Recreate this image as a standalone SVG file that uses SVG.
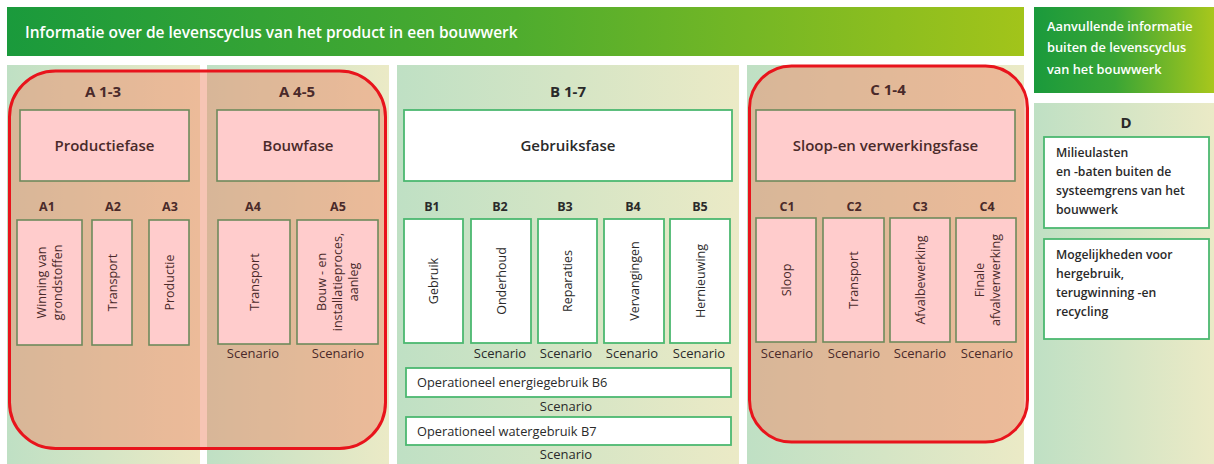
<svg xmlns="http://www.w3.org/2000/svg" width="1214" height="464" viewBox="0 0 1214 464">
<defs>
<linearGradient id="gHead" x1="0" y1="0" x2="1" y2="0">
<stop offset="0" stop-color="#1a9a3c"/><stop offset="0.5" stop-color="#4eac2e"/><stop offset="1" stop-color="#a2c41a"/>
</linearGradient>
<linearGradient id="gHead2" x1="0" y1="0" x2="1" y2="0">
<stop offset="0" stop-color="#1a9a3c"/><stop offset="0.45" stop-color="#3aa535"/><stop offset="1" stop-color="#a8c71c"/>
</linearGradient>
<linearGradient id="gPanel" x1="0" y1="0" x2="1" y2="0">
<stop offset="0" stop-color="#bfe0c4"/><stop offset="1" stop-color="#ebeac6"/>
</linearGradient>
<style>
text{font-family:"Open Sans","Liberation Sans",sans-serif;}
.panel{fill:url(#gPanel);}
.red{fill:#ee9070;fill-opacity:0.52;stroke:#e8141c;stroke-width:3;}
.pbox{fill:#ffcccc;stroke:#6e8a5c;stroke-width:1.6;}
.wbox{fill:#ffffff;stroke:#4cb870;stroke-width:1.8;}
.hd{font-size:15.5px;font-weight:600;fill:#ffffff;}
.hd2{font-size:12.8px;font-weight:600;fill:#ffffff;}
.grp{font-size:15px;font-weight:700;text-anchor:middle;}
.phase{font-size:15px;font-weight:600;text-anchor:middle;}
.lbl{font-size:12.5px;font-weight:700;text-anchor:middle;}
.vt{font-size:12.5px;font-weight:400;text-anchor:middle;}
.sc{font-size:13px;font-weight:400;text-anchor:middle;}
.op{font-size:12.8px;font-weight:400;}
.dt{font-size:12.2px;font-weight:600;fill:#2a2a2a;}
.brn{fill:#4a2a2a;}
.dk{fill:#2a2a2a;}
</style>
</defs>
<rect x="0" y="0" width="1214" height="464" fill="#ffffff"/>

<g id="header">
<rect x="7" y="7" width="1017" height="49" fill="url(#gHead)"/>
<text class="hd" x="25" y="38">Informatie over de levenscyclus van het product in een bouwwerk</text>
</g>
<g id="header-d">
<rect x="1034" y="7" width="180" height="86" fill="url(#gHead2)"/>
<text class="hd2" x="1047" y="31">Aanvullende informatie</text>
<text class="hd2" x="1047" y="52">buiten de levenscyclus</text>
<text class="hd2" x="1047" y="74">van het bouwwerk</text>
</g>

<g id="panels">
<rect class="panel" x="7" y="65" width="193" height="399"/>
<rect class="panel" x="207" y="65" width="182" height="399"/>
<rect class="panel" x="397" y="65" width="342" height="399"/>
<rect class="panel" x="747" y="65" width="277" height="399"/>
<rect class="panel" x="1034" y="103" width="180" height="361"/>
</g>

<g id="highlight-a">
<rect class="red" x="9.5" y="71" width="376" height="377.5" rx="46" ry="46"/>
</g>
<g id="highlight-c">
<rect class="red" x="749.5" y="66" width="278" height="376" rx="42" ry="42"/>
</g>

<g id="group-a13">
<text class="grp brn" x="103" y="97">A 1-3</text>
</g>
<g id="group-a45">
<text class="grp brn" x="297" y="97">A 4-5</text>
</g>
<g id="group-b17">
<text class="grp dk" x="568" y="97">B 1-7</text>
</g>
<g id="group-c14">
<text class="grp brn" x="888" y="95">C 1-4</text>
</g>

<g id="productiefase">
<rect class="pbox" x="20" y="110" width="169" height="71"/>
<text class="phase brn" x="104.5" y="150.5">Productiefase</text>
</g>
<g id="bouwfase">
<rect class="pbox" x="217" y="110" width="162" height="71"/>
<text class="phase brn" x="298" y="150.5">Bouwfase</text>
</g>
<g id="gebruiksfase">
<rect class="wbox" x="404" y="110" width="328" height="71"/>
<text class="phase dk" x="568" y="150.5">Gebruiksfase</text>
</g>
<g id="sloopfase">
<rect class="pbox" x="756" y="110" width="259" height="71"/>
<text class="phase brn" x="885.5" y="150.5">Sloop-en verwerkingsfase</text>
</g>

<g id="a1">
<text class="lbl brn" x="47" y="211">A1</text>
<rect class="pbox" x="17" y="220" width="65" height="125"/>
<text class="vt brn" transform="translate(49.5 282.5) rotate(-90)"><tspan x="0" y="-3.5">Winning van</tspan><tspan x="0" y="12.5">grondstoffen</tspan></text>
</g>
<g id="a2">
<text class="lbl brn" x="113" y="211">A2</text>
<rect class="pbox" x="92" y="220" width="40" height="125"/>
<text class="vt brn" transform="translate(112 282.5) rotate(-90)"><tspan x="0" y="4.5">Transport</tspan></text>
</g>
<g id="a3">
<text class="lbl brn" x="170" y="211">A3</text>
<rect class="pbox" x="149" y="220" width="40" height="125"/>
<text class="vt brn" transform="translate(169 282.5) rotate(-90)"><tspan x="0" y="4.5">Productie</tspan></text>
</g>
<g id="a4">
<text class="lbl brn" x="253" y="211">A4</text>
<rect class="pbox" x="218" y="220" width="72" height="124"/>
<text class="vt brn" transform="translate(254 282) rotate(-90)"><tspan x="0" y="4.5">Transport</tspan></text>
<text class="sc brn" x="253" y="358">Scenario</text>
</g>
<g id="a5">
<text class="lbl brn" x="338" y="211">A5</text>
<rect class="pbox" x="297" y="220" width="81" height="124"/>
<text class="vt brn" transform="translate(337.5 282) rotate(-90)"><tspan x="0" y="-11.5">Bouw - en</tspan><tspan x="0" y="4.5">installatieproces,</tspan><tspan x="0" y="20.5">aanleg</tspan></text>
<text class="sc brn" x="338" y="358">Scenario</text>
</g>

<g id="b1">
<text class="lbl dk" x="432" y="211">B1</text>
<rect class="wbox" x="404" y="219" width="59" height="124"/>
<text class="vt dk" transform="translate(433.5 281) rotate(-90)"><tspan x="0" y="4.5">Gebruik</tspan></text>
</g>
<g id="b2">
<text class="lbl dk" x="500" y="211">B2</text>
<rect class="wbox" x="471" y="219" width="60" height="124"/>
<text class="vt dk" transform="translate(501 281) rotate(-90)"><tspan x="0" y="4.5">Onderhoud</tspan></text>
<text class="sc dk" x="500" y="358">Scenario</text>
</g>
<g id="b3">
<text class="lbl dk" x="565" y="211">B3</text>
<rect class="wbox" x="538" y="219" width="59" height="124"/>
<text class="vt dk" transform="translate(567.5 281) rotate(-90)"><tspan x="0" y="4.5">Reparaties</tspan></text>
<text class="sc dk" x="566" y="358">Scenario</text>
</g>
<g id="b4">
<text class="lbl dk" x="633" y="211">B4</text>
<rect class="wbox" x="604" y="219" width="60" height="124"/>
<text class="vt dk" transform="translate(634 281) rotate(-90)"><tspan x="0" y="4.5">Vervangingen</tspan></text>
<text class="sc dk" x="632" y="358">Scenario</text>
</g>
<g id="b5">
<text class="lbl dk" x="700" y="211">B5</text>
<rect class="wbox" x="670" y="219" width="60" height="124"/>
<text class="vt dk" transform="translate(700 281) rotate(-90)"><tspan x="0" y="4.5">Hernieuwing</tspan></text>
<text class="sc dk" x="699" y="358">Scenario</text>
</g>
<g id="b6">
<rect class="wbox" x="406" y="368" width="325" height="29"/>
<text class="op dk" x="417" y="387">Operationeel energiegebruik B6</text>
<text class="sc dk" x="566" y="411">Scenario</text>
</g>
<g id="b7">
<rect class="wbox" x="406" y="417" width="325" height="28"/>
<text class="op dk" x="417" y="436">Operationeel watergebruik B7</text>
<text class="sc dk" x="566" y="459">Scenario</text>
</g>

<g id="c1">
<text class="lbl brn" x="787" y="211">C1</text>
<rect class="pbox" x="756" y="218" width="60" height="124"/>
<text class="vt brn" transform="translate(786 280) rotate(-90)"><tspan x="0" y="4.5">Sloop</tspan></text>
<text class="sc brn" x="787" y="358">Scenario</text>
</g>
<g id="c2">
<text class="lbl brn" x="854" y="211">C2</text>
<rect class="pbox" x="823" y="218" width="61" height="124"/>
<text class="vt brn" transform="translate(853.5 280) rotate(-90)"><tspan x="0" y="4.5">Transport</tspan></text>
<text class="sc brn" x="854" y="358">Scenario</text>
</g>
<g id="c3">
<text class="lbl brn" x="920" y="211">C3</text>
<rect class="pbox" x="890" y="218" width="60" height="124"/>
<text class="vt brn" transform="translate(920 280) rotate(-90)"><tspan x="0" y="4.5">Afvalbewerking</tspan></text>
<text class="sc brn" x="920" y="358">Scenario</text>
</g>
<g id="c4">
<text class="lbl brn" x="987" y="211">C4</text>
<rect class="pbox" x="956" y="218" width="60" height="124"/>
<text class="vt brn" transform="translate(987 280) rotate(-90)"><tspan x="0" y="-3.5">Finale</tspan><tspan x="0" y="12.5">afvalverwerking</tspan></text>
<text class="sc brn" x="987" y="358">Scenario</text>
</g>

<g id="d">
<text class="grp dk" x="1126" y="128">D</text>
</g>
<g id="d1">
<rect class="wbox" x="1044" y="137" width="165" height="91"/>
<text class="dt" x="1056" y="157">Milieulasten</text>
<text class="dt" x="1056" y="176">en -baten buiten de</text>
<text class="dt" x="1056" y="195">systeemgrens van het</text>
<text class="dt" x="1056" y="214">bouwwerk</text>
</g>
<g id="d2">
<rect class="wbox" x="1044" y="239" width="165" height="100"/>
<text class="dt" x="1056" y="259">Mogelijkheden voor</text>
<text class="dt" x="1056" y="278">hergebruik,</text>
<text class="dt" x="1056" y="297">terugwinning -en</text>
<text class="dt" x="1056" y="316">recycling</text>
</g>

<g id="connectors"></g>
</svg>
